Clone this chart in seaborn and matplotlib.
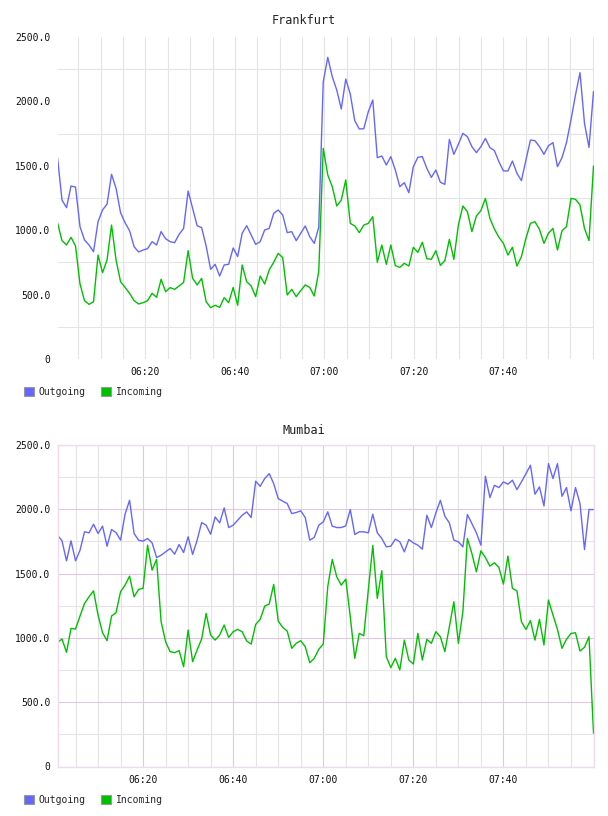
import pandas as pd
import seaborn as sns
import matplotlib.pyplot as plt
import matplotlib.dates as mdates
from matplotlib.ticker import MultipleLocator
from matplotlib.patches import Patch

series_names = ['Outgoing', 'Incoming']
series_colors = ['#6666ff', '#00c000']

# traffic per minute, 06:00 - 08:00
frankfurt_out = [1563, 1234, 1175, 1343, 1335, 1027, 924, 885, 833, 1066,
                 1157, 1203, 1434, 1325, 1136, 1058, 996, 872, 831, 846,
                 857, 911, 885, 989, 934, 911, 903, 968, 1014, 1304,
                 1170, 1035, 1020, 877, 696, 735, 644, 730, 735, 862,
                 795, 976, 1035, 963, 890, 911, 1002, 1014, 1131, 1157,
                 1118, 981, 989, 919, 976, 1033, 950, 898, 1022, 2153,
                 2342, 2192, 2088, 1941, 2174, 2057, 1850, 1786, 1788, 1920,
                 2011, 1563, 1576, 1506, 1571, 1467, 1338, 1369, 1291, 1493,
                 1566, 1571, 1480, 1410, 1467, 1372, 1356, 1705, 1589, 1667,
                 1752, 1726, 1649, 1602, 1649, 1713, 1641, 1618, 1532, 1460,
                 1460, 1537, 1442, 1385, 1545, 1700, 1695, 1649, 1589, 1656,
                 1680, 1493, 1563, 1680, 1856, 2050, 2223, 1830, 1643, 2076]
frankfurt_in = [1058, 919, 885, 945, 877, 582, 453, 424, 445, 807,
                670, 769, 1040, 769, 600, 556, 510, 453, 427, 437,
                453, 510, 479, 619, 523, 554, 541, 567, 595, 841,
                626, 575, 626, 445, 399, 417, 401, 476, 437, 556,
                417, 730, 600, 567, 484, 644, 582, 691, 751, 820,
                787, 497, 541, 484, 531, 575, 556, 489, 678, 1636,
                1429, 1338, 1188, 1234, 1390, 1053, 1033, 981, 1040, 1053,
                1105, 751, 885, 735, 885, 725, 712, 743, 722, 867,
                828, 906, 779, 774, 841, 727, 763, 929, 774, 1040,
                1188, 1144, 989, 1110, 1152, 1247, 1092, 1009, 945, 898,
                807, 867, 722, 795, 937, 1053, 1066, 1007, 898, 976,
                1014, 846, 996, 1027, 1247, 1240, 1196, 1014, 919, 1498]
mumbai_out = [1799, 1755, 1599, 1755, 1599, 1682, 1825, 1817, 1884, 1812,
              1869, 1713, 1843, 1819, 1760, 1962, 2070, 1812, 1760, 1752,
              1773, 1739, 1625, 1643, 1669, 1695, 1651, 1726, 1664, 1786,
              1649, 1760, 1897, 1876, 1806, 1941, 1894, 2011, 1858, 1876,
              1915, 1954, 1980, 1936, 2218, 2179, 2239, 2277, 2200, 2083,
              2063, 2045, 1967, 1975, 1988, 1936, 1760, 1781, 1876, 1902,
              1980, 1869, 1858, 1858, 1871, 1998, 1804, 1825, 1825, 1817,
              1962, 1817, 1773, 1708, 1713, 1768, 1747, 1669, 1765, 1739,
              1721, 1690, 1954, 1858, 1972, 2070, 1946, 1894, 1760, 1747,
              1708, 1959, 1889, 1817, 1721, 2257, 2091, 2187, 2169, 2213,
              2195, 2226, 2153, 2213, 2277, 2342, 2117, 2174, 2026, 2355,
              2239, 2355, 2101, 2169, 1988, 2169, 2045, 1687, 1998, 1998]
mumbai_in = [965, 991, 888, 1074, 1069, 1170, 1268, 1320, 1366, 1178,
             1040, 978, 1170, 1196, 1359, 1410, 1480, 1320, 1377, 1385,
             1721, 1527, 1610, 1126, 970, 893, 885, 901, 776, 1061,
             815, 906, 991, 1190, 1022, 983, 1022, 1100, 1004, 1048,
             1066, 1048, 976, 952, 1105, 1144, 1247, 1263, 1416, 1131,
             1082, 1053, 919, 958, 978, 932, 807, 841, 911, 952,
             1398, 1610, 1475, 1410, 1457, 1165, 841, 1035, 1017, 1372,
             1718, 1307, 1522, 854, 769, 841, 751, 983, 828, 797,
             1035, 828, 989, 958, 1048, 1009, 893, 1087, 1281, 958,
             1203, 1773, 1656, 1514, 1677, 1625, 1558, 1584, 1548, 1418,
             1636, 1385, 1366, 1126, 1066, 1134, 983, 1144, 945, 1294,
             1178, 1066, 919, 989, 1035, 1040, 898, 927, 1009, 259]

frankfurt_times = pd.date_range('2024-01-01 06:00:20', '2024-01-01 08:00:10', periods=120)
mumbai_times = pd.date_range('2024-01-01 06:01', periods=120, freq='min')
x_ticks = pd.date_range('2024-01-01 06:20', '2024-01-01 07:40', freq='20min')
y_ticks = [0, 500, 1000, 1500, 2000, 2500]
y_tick_labels = ['0', '500.0', '1000.0', '1500.0', '2000.0', '2500.0']

sns.set_style('white')
plt.rcParams['font.family'] = ['DejaVu Sans Mono']

fig = plt.figure(figsize=(6.08, 8.16), dpi=100)
W, H = 608, 816
palette = dict(zip(series_names, series_colors))


def make_df(times, out, inc):
    return pd.DataFrame({
        'time': list(times) + list(times),
        'value': out + inc,
        'series': [series_names[0]] * len(out) + [series_names[1]] * len(inc),
    })


def draw(ax, df, times, purple):
    sns.lineplot(data=df, x='time', y='value', hue='series', palette=palette,
                 legend=False, ax=ax, linewidth=1.0, estimator=None, sort=False)
    ax.set_xlabel('')
    ax.set_ylabel('')
    ax.set_xlim(times[0], times[-1])
    ax.set_ylim(0, 2500)
    ax.set_xticks(x_ticks)
    ax.xaxis.set_major_formatter(mdates.DateFormatter('%H:%M'))
    ax.xaxis.set_minor_locator(mdates.MinuteLocator(byminute=range(0, 60, 5)))
    ax.set_yticks(y_ticks)
    ax.set_yticklabels(y_tick_labels)
    ax.yaxis.set_minor_locator(MultipleLocator(250))
    ax.tick_params(which='both', length=0, labelsize=7, colors='#111111')
    ax.tick_params(axis='y', pad=5)
    ax.tick_params(axis='x', pad=6)
    ax.set_axisbelow(True)
    gray = '#e4e4e4'
    if purple:
        ax.grid(which='major', color='#e2c6e2', linewidth=0.8)
        ax.grid(which='minor', color=gray, linewidth=0.8)
        for s in ax.spines.values():
            s.set_color('#eedcee')
            s.set_linewidth(1.0)
    else:
        ax.grid(which='both', axis='x', color=gray, linewidth=0.8)
        ax.grid(which='minor', axis='y', color=gray, linewidth=0.8)
        for s in ax.spines.values():
            s.set_visible(False)


def legend_at(ypix):
    handles = [Patch(facecolor=c, edgecolor='#999999', linewidth=0.8, label=n)
               for n, c in zip(series_names, series_colors)]
    fig.legend(handles=handles, loc='center left', bbox_to_anchor=(24 / W, 1 - ypix / H),
               frameon=False, ncol=2, fontsize=7, handlelength=1.0, handleheight=1.0,
               handletextpad=0.5, columnspacing=1.6, borderpad=0, borderaxespad=0)


left, right = 57.5 / W, 593.5 / W
ax1 = fig.add_axes([left, 1 - 359 / H, right - left, (359 - 37) / H])
draw(ax1, make_df(frankfurt_times, frankfurt_out, frankfurt_in), frankfurt_times, False)
fig.text(0.5, 1 - 20 / H, 'Frankfurt', ha='center', va='center', fontsize=8.5, color='#222222')
legend_at(392)

ax2 = fig.add_axes([left, 1 - 766.5 / H, right - left, (766.5 - 445) / H])
draw(ax2, make_df(mumbai_times, mumbai_out, mumbai_in), mumbai_times, True)
fig.text(0.5, 1 - 430 / H, 'Mumbai', ha='center', va='center', fontsize=8.5, color='#222222')
legend_at(800)

fig.savefig('out.png', dpi=100)
